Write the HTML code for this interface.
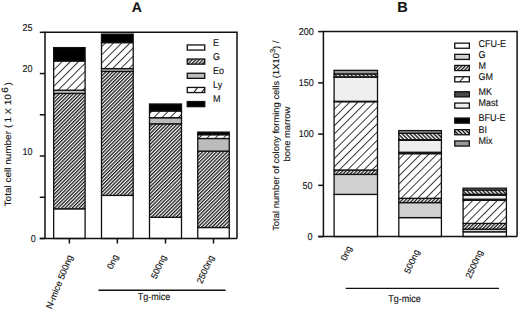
<!DOCTYPE html>
<html><head><meta charset="utf-8"><style>
html,body{margin:0;padding:0;background:#fff;}
svg{display:block;}
text{font-family:"Liberation Sans",sans-serif;text-rendering:geometricPrecision;fill:#111;stroke:#111;stroke-width:0.12px;}
</style></head><body>
<svg width="520" height="311" viewBox="0 0 520 311">
<defs>
<pattern id="dense" patternUnits="userSpaceOnUse" width="2.5" height="2.5" patternTransform="rotate(45)">
<rect x="0" y="0" width="2.5" height="2.5" fill="#fff"/><rect x="0" y="0" width="1.3" height="2.5" fill="#1a1a1a"/></pattern>
<pattern id="sparse" patternUnits="userSpaceOnUse" width="5.8" height="5.8" patternTransform="rotate(45)">
<rect x="0" y="0" width="5.8" height="5.8" fill="#fff"/><rect x="0" y="0" width="0.9" height="5.8" fill="#222"/></pattern>
<pattern id="bi" patternUnits="userSpaceOnUse" width="2.8" height="2.8" patternTransform="rotate(-45)">
<rect x="0" y="0" width="2.8" height="2.8" fill="#000"/><rect x="0" y="0" width="1.5" height="2.8" fill="#fff"/></pattern>
</defs>

<rect x="53.65" y="208.80" width="31.45" height="29.70" fill="#fff" stroke="#111" stroke-width="1.3"/>
<rect x="53.65" y="93.40" width="31.45" height="115.40" fill="url(#dense)" stroke="#111" stroke-width="1.3"/>
<rect x="53.65" y="90.20" width="31.45" height="3.20" fill="#bcbcbc" stroke="#111" stroke-width="1.3"/>
<rect x="53.65" y="61.00" width="31.45" height="29.20" fill="url(#sparse)" stroke="#111" stroke-width="1.3"/>
<rect x="53.65" y="47.60" width="31.45" height="13.40" fill="#000" stroke="#111" stroke-width="1.3"/>
<rect x="101.50" y="195.40" width="31.70" height="43.10" fill="#fff" stroke="#111" stroke-width="1.3"/>
<rect x="101.50" y="71.40" width="31.70" height="124.00" fill="url(#dense)" stroke="#111" stroke-width="1.3"/>
<rect x="101.50" y="68.60" width="31.70" height="2.80" fill="#bcbcbc" stroke="#111" stroke-width="1.3"/>
<rect x="101.50" y="42.60" width="31.70" height="26.00" fill="url(#sparse)" stroke="#111" stroke-width="1.3"/>
<rect x="101.50" y="34.10" width="31.70" height="8.50" fill="#000" stroke="#111" stroke-width="1.3"/>
<rect x="149.50" y="217.30" width="32.00" height="21.20" fill="#fff" stroke="#111" stroke-width="1.3"/>
<rect x="149.50" y="123.80" width="32.00" height="93.50" fill="url(#dense)" stroke="#111" stroke-width="1.3"/>
<rect x="149.50" y="117.70" width="32.00" height="6.10" fill="#bcbcbc" stroke="#111" stroke-width="1.3"/>
<rect x="149.50" y="111.00" width="32.00" height="6.70" fill="url(#sparse)" stroke="#111" stroke-width="1.3"/>
<rect x="149.50" y="104.00" width="32.00" height="7.00" fill="#000" stroke="#111" stroke-width="1.3"/>
<rect x="197.75" y="227.50" width="31.50" height="11.00" fill="#fff" stroke="#111" stroke-width="1.3"/>
<rect x="197.75" y="151.10" width="31.50" height="76.40" fill="url(#dense)" stroke="#111" stroke-width="1.3"/>
<rect x="197.75" y="138.50" width="31.50" height="12.60" fill="#bcbcbc" stroke="#111" stroke-width="1.3"/>
<rect x="197.75" y="134.70" width="31.50" height="3.80" fill="url(#sparse)" stroke="#111" stroke-width="1.3"/>
<rect x="197.75" y="132.10" width="31.50" height="2.60" fill="#000" stroke="#111" stroke-width="1.3"/>
<path d="M45.0,238.5 L45.0,32.3 L237.0,32.3 L237.0,238.5" fill="none" stroke="#111" stroke-width="1.5"/>
<line x1="39.80" y1="238.50" x2="237.00" y2="238.50" stroke="#111" stroke-width="1.5"/>
<line x1="39.80" y1="238.50" x2="45.00" y2="238.50" stroke="#111" stroke-width="1.5"/>
<line x1="39.80" y1="197.26" x2="45.00" y2="197.26" stroke="#111" stroke-width="1.5"/>
<line x1="39.80" y1="156.02" x2="45.00" y2="156.02" stroke="#111" stroke-width="1.5"/>
<line x1="39.80" y1="114.78" x2="45.00" y2="114.78" stroke="#111" stroke-width="1.5"/>
<line x1="39.80" y1="73.54" x2="45.00" y2="73.54" stroke="#111" stroke-width="1.5"/>
<line x1="39.80" y1="32.30" x2="45.00" y2="32.30" stroke="#111" stroke-width="1.5"/>
<line x1="69.38" y1="238.50" x2="69.38" y2="243.50" stroke="#111" stroke-width="1.5"/>
<line x1="117.35" y1="238.50" x2="117.35" y2="243.50" stroke="#111" stroke-width="1.5"/>
<line x1="165.50" y1="238.50" x2="165.50" y2="243.50" stroke="#111" stroke-width="1.5"/>
<line x1="213.50" y1="238.50" x2="213.50" y2="243.50" stroke="#111" stroke-width="1.5"/>
<text transform="translate(32.60,30.60) scale(1,1.1)" font-size="9" text-anchor="end" >25</text>
<text transform="translate(32.60,71.60) scale(1,1.1)" font-size="9" text-anchor="end" >20</text>
<text transform="translate(32.60,154.60) scale(1,1.1)" font-size="9" text-anchor="end" >10</text>
<text transform="translate(35.80,241.60) scale(1,1.1)" font-size="9" text-anchor="end" >0</text>
<text transform="translate(136.80,12.40) scale(1,1.0)" font-size="14" text-anchor="middle" font-weight="bold">A</text>
<text transform="translate(10.6,206.4) rotate(-90) scale(1.085,1)" font-size="9.2"><tspan x="0">Total cell number</tspan><tspan x="72.3">(</tspan><tspan x="77.3">1</tspan><tspan x="84.9" font-size="8.3">X</tspan><tspan x="93.3">10</tspan><tspan x="104.8" dy="-2.6">6</tspan><tspan x="111.4" dy="2.6">)</tspan></text>
<rect x="187.25" y="44.95" width="17.50" height="5.10" fill="#fff" stroke="#111" stroke-width="1.3"/>
<text transform="translate(213.00,45.70) scale(1,1.1)" font-size="9" text-anchor="start" >E</text>
<rect x="187.25" y="59.05" width="17.50" height="5.10" fill="url(#dense)" stroke="#111" stroke-width="1.3"/>
<text transform="translate(213.00,59.80) scale(1,1.1)" font-size="9" text-anchor="start" >G</text>
<rect x="187.25" y="73.25" width="17.50" height="5.10" fill="#bcbcbc" stroke="#111" stroke-width="1.3"/>
<text transform="translate(213.00,74.00) scale(1,1.1)" font-size="9" text-anchor="start" >Eo</text>
<rect x="187.25" y="87.45" width="17.50" height="5.10" fill="#fff" stroke="#111" stroke-width="1.3"/>
<path d="M193.5,92.80 L197.6,87.70 M201.2,92.80 L204.8,88.30" stroke="#222" stroke-width="1.1" fill="none"/>
<text transform="translate(213.00,88.20) scale(1,1.1)" font-size="9" text-anchor="start" >Ly</text>
<rect x="187.25" y="101.55" width="17.50" height="5.10" fill="#000" stroke="#111" stroke-width="1.3"/>
<text transform="translate(213.00,102.30) scale(1,1.1)" font-size="9" text-anchor="start" >M</text>
<text transform="translate(67.00,254.00) rotate(-68)" font-size="9.2" text-anchor="end" dy="0.7em">N-mice 500ng</text>
<text transform="translate(112.70,253.50) rotate(-66)" font-size="9" text-anchor="end" dy="0.7em">0ng</text>
<text transform="translate(160.70,254.00) rotate(-66)" font-size="9" text-anchor="end" dy="0.7em">500ng</text>
<text transform="translate(208.50,254.30) rotate(-66)" font-size="9" text-anchor="end" dy="0.7em">2500ng</text>
<line x1="98.50" y1="290.30" x2="225.60" y2="290.30" stroke="#111" stroke-width="1.4"/>
<text transform="translate(137.80,300.20) scale(1,1.1)" font-size="9" text-anchor="start" >Tg-mice</text>
<rect x="334.10" y="194.40" width="43.40" height="42.20" fill="#fff" stroke="#111" stroke-width="1.3"/>
<rect x="334.10" y="174.40" width="43.40" height="20.00" fill="#d0d0d0" stroke="#111" stroke-width="1.3"/>
<rect x="334.10" y="170.00" width="43.40" height="4.40" fill="url(#dense)" stroke="#111" stroke-width="1.3"/>
<rect x="334.10" y="101.70" width="43.40" height="68.30" fill="url(#sparse)" stroke="#111" stroke-width="1.3"/>
<rect x="334.10" y="101.30" width="43.40" height="0.40" fill="#4a4a4a" stroke="#111" stroke-width="1.3"/>
<rect x="334.10" y="77.00" width="43.40" height="24.30" fill="#efefef" stroke="#111" stroke-width="1.3"/>
<rect x="334.10" y="76.90" width="43.40" height="0.10" fill="#000" stroke="#111" stroke-width="1.3"/>
<rect x="334.10" y="73.90" width="43.40" height="3.00" fill="url(#bi)" stroke="#111" stroke-width="1.3"/>
<rect x="334.10" y="70.35" width="43.40" height="3.55" fill="#999999" stroke="#111" stroke-width="1.3"/>
<rect x="398.80" y="217.60" width="42.60" height="19.00" fill="#fff" stroke="#111" stroke-width="1.3"/>
<rect x="398.80" y="202.60" width="42.60" height="15.00" fill="#d0d0d0" stroke="#111" stroke-width="1.3"/>
<rect x="398.80" y="198.30" width="42.60" height="4.30" fill="url(#dense)" stroke="#111" stroke-width="1.3"/>
<rect x="398.80" y="153.65" width="42.60" height="44.65" fill="url(#sparse)" stroke="#111" stroke-width="1.3"/>
<rect x="398.80" y="152.25" width="42.60" height="1.40" fill="#4a4a4a" stroke="#111" stroke-width="1.3"/>
<rect x="398.80" y="140.35" width="42.60" height="11.90" fill="#efefef" stroke="#111" stroke-width="1.3"/>
<rect x="398.80" y="139.75" width="42.60" height="0.60" fill="#000" stroke="#111" stroke-width="1.3"/>
<rect x="398.80" y="133.20" width="42.60" height="6.55" fill="url(#bi)" stroke="#111" stroke-width="1.3"/>
<rect x="398.80" y="130.60" width="42.60" height="2.60" fill="#999999" stroke="#111" stroke-width="1.3"/>
<rect x="463.10" y="231.80" width="43.30" height="4.80" fill="#fff" stroke="#111" stroke-width="1.3"/>
<rect x="463.10" y="229.10" width="43.30" height="2.70" fill="#d0d0d0" stroke="#111" stroke-width="1.3"/>
<rect x="463.10" y="223.40" width="43.30" height="5.70" fill="url(#dense)" stroke="#111" stroke-width="1.3"/>
<rect x="463.10" y="200.30" width="43.30" height="23.10" fill="url(#sparse)" stroke="#111" stroke-width="1.3"/>
<rect x="463.10" y="199.20" width="43.30" height="1.10" fill="#4a4a4a" stroke="#111" stroke-width="1.3"/>
<rect x="463.10" y="195.10" width="43.30" height="4.10" fill="#efefef" stroke="#111" stroke-width="1.3"/>
<rect x="463.10" y="194.30" width="43.30" height="0.80" fill="#000" stroke="#111" stroke-width="1.3"/>
<rect x="463.10" y="190.00" width="43.30" height="4.30" fill="url(#bi)" stroke="#111" stroke-width="1.3"/>
<rect x="463.10" y="188.20" width="43.30" height="1.80" fill="#999999" stroke="#111" stroke-width="1.3"/>
<path d="M323.4,236.6 L323.4,31.6 L517.1,31.6 L517.1,236.6" fill="none" stroke="#111" stroke-width="1.5"/>
<line x1="318.20" y1="236.60" x2="517.10" y2="236.60" stroke="#111" stroke-width="1.5"/>
<line x1="318.20" y1="236.60" x2="323.40" y2="236.60" stroke="#111" stroke-width="1.5"/>
<line x1="318.20" y1="185.35" x2="323.40" y2="185.35" stroke="#111" stroke-width="1.5"/>
<line x1="318.20" y1="134.10" x2="323.40" y2="134.10" stroke="#111" stroke-width="1.5"/>
<line x1="318.20" y1="82.85" x2="323.40" y2="82.85" stroke="#111" stroke-width="1.5"/>
<line x1="318.20" y1="31.60" x2="323.40" y2="31.60" stroke="#111" stroke-width="1.5"/>
<text transform="translate(312.40,239.80) scale(1,1.1)" font-size="9" text-anchor="end" >0</text>
<text transform="translate(312.40,188.55) scale(1,1.1)" font-size="9" text-anchor="end" >50</text>
<text transform="translate(313.80,137.30) scale(1,1.1)" font-size="9" text-anchor="end" >100</text>
<text transform="translate(313.80,86.05) scale(1,1.1)" font-size="9" text-anchor="end" >150</text>
<text transform="translate(313.80,34.80) scale(1,1.1)" font-size="9" text-anchor="end" >200</text>
<text transform="translate(402.60,11.90) scale(1,1.0)" font-size="14.5" text-anchor="middle" font-weight="bold">B</text>
<text transform="translate(278.5,135.7) rotate(-90) scale(1.06,1)" font-size="8.9" text-anchor="middle">Total number of colony forming cells (1X10<tspan font-size="7" dy="-3.9">3</tspan><tspan dy="3.9">) /</tspan></text>
<text transform="translate(290.0,134.1) rotate(-90) scale(1.06,1)" font-size="8.9" text-anchor="middle">bone marrow</text>
<rect x="454.75" y="43.15" width="14.60" height="5.10" fill="#fff" stroke="#111" stroke-width="1.3"/>
<text transform="translate(478.50,46.50) scale(1,1.1)" font-size="9" text-anchor="start" >CFU-E</text>
<rect x="454.75" y="54.35" width="14.60" height="5.10" fill="#d0d0d0" stroke="#111" stroke-width="1.3"/>
<text transform="translate(478.50,57.70) scale(1,1.1)" font-size="9" text-anchor="start" >G</text>
<rect x="454.75" y="65.45" width="14.60" height="5.10" fill="url(#dense)" stroke="#111" stroke-width="1.3"/>
<text transform="translate(478.50,68.80) scale(1,1.1)" font-size="9" text-anchor="start" >M</text>
<rect x="454.75" y="76.75" width="14.60" height="5.10" fill="#fff" stroke="#111" stroke-width="1.3"/>
<path d="M459.3,82.00 L463.9,76.90" stroke="#222" stroke-width="1.1" fill="none"/>
<text transform="translate(478.50,80.10) scale(1,1.1)" font-size="9" text-anchor="start" >GM</text>
<rect x="454.75" y="91.75" width="14.60" height="5.10" fill="#4a4a4a" stroke="#111" stroke-width="1.3"/>
<text transform="translate(478.50,95.10) scale(1,1.1)" font-size="9" text-anchor="start" >MK</text>
<rect x="454.75" y="103.05" width="14.60" height="5.10" fill="#efefef" stroke="#111" stroke-width="1.3"/>
<text transform="translate(478.50,106.40) scale(1,1.1)" font-size="9" text-anchor="start" >Mast</text>
<rect x="454.75" y="118.05" width="14.60" height="5.10" fill="#000" stroke="#111" stroke-width="1.3"/>
<text transform="translate(478.50,121.40) scale(1,1.1)" font-size="9" text-anchor="start" >BFU-E</text>
<rect x="454.75" y="129.65" width="14.60" height="5.10" fill="url(#bi)" stroke="#111" stroke-width="1.3"/>
<text transform="translate(478.50,133.00) scale(1,1.1)" font-size="9" text-anchor="start" >BI</text>
<rect x="454.75" y="140.95" width="14.60" height="5.10" fill="#999999" stroke="#111" stroke-width="1.3"/>
<text transform="translate(478.50,144.30) scale(1,1.1)" font-size="9" text-anchor="start" >Mix</text>
<text transform="translate(346.30,245.00) rotate(-66)" font-size="9" text-anchor="end" dy="0.7em">0ng</text>
<text transform="translate(414.00,248.70) rotate(-66)" font-size="9" text-anchor="end" dy="0.7em">500ng</text>
<text transform="translate(477.30,249.00) rotate(-66)" font-size="9" text-anchor="end" dy="0.7em">2500ng</text>
<line x1="345.70" y1="288.40" x2="499.00" y2="288.40" stroke="#111" stroke-width="1.4"/>
<text transform="translate(388.20,301.50) scale(1,1.1)" font-size="9" text-anchor="start" >Tg-mice</text>
</svg>
</body></html>
